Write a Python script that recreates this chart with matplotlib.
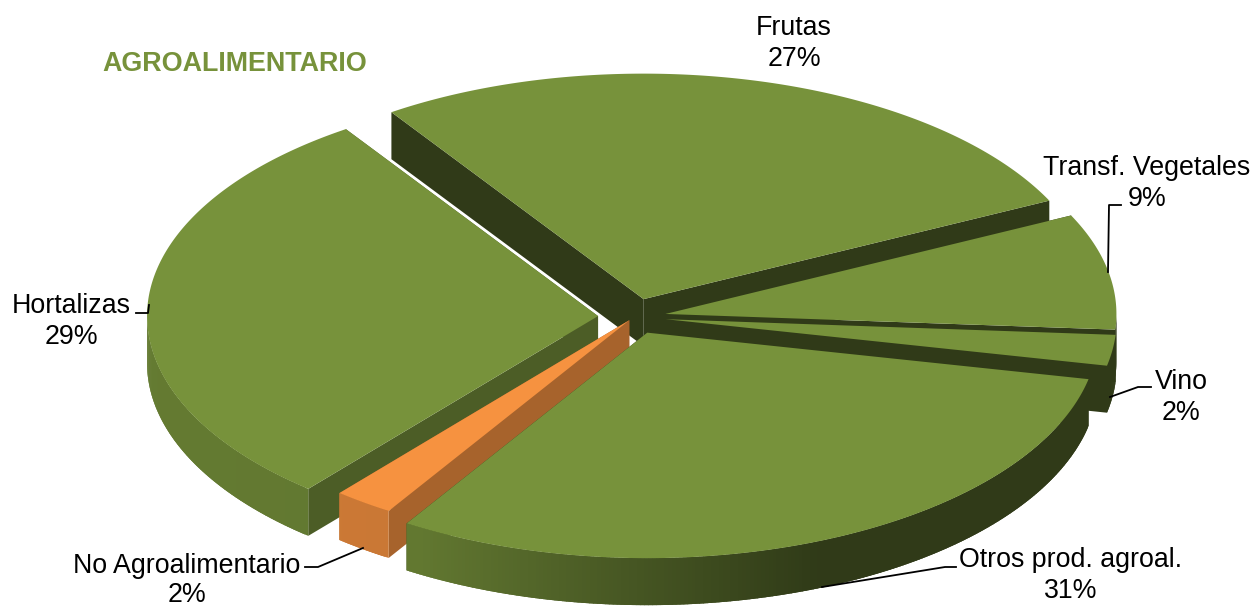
import matplotlib
matplotlib.use("Agg")
import matplotlib.pyplot as plt
import numpy as np
from matplotlib.colors import to_rgb

plt.rcParams['font.family'] = ['Liberation Sans', 'DejaVu Sans']

# chart data, clockwise from Frutas
categories = ["Frutas", "Transf. Vegetales", "Vino", "Otros prod. agroal.",
              "No Agroalimentario", "Hortalizas"]
shares = [27.25, 8.3, 2.2, 30.65, 2.15, 29.45]
share_labels = ["27%", "9%", "2%", "31%", "2%", "29%"]

# style for each slice, same order
explode = [37, 32, 32, 34, 8, 36]
base_colors = ["#77923B", "#77923B", "#77923B", "#77923B", "#F69240", "#77923B"]
wall_shade = [0.40, 0.40, 0.40, 0.40, 0.68, 0.64]
# back to front
draw_order = [0, 1, 2, 5, 4, 3]

W, H = 1254, 607
CX, CY = 634, 317
RX, RY = 451, 225.5
DEPTH = 47
START_ANGLE = -34.0
FONT_SIZE = 19.3

# label centre x, first line y, gap to second line
label_pos = [(794, 28), (1147, 168), (1181, 382), (1071, 560), (187, 566), (71, 306)]
label_gap = [31, 31, 31, 31, 29, 31]
leaders = [
    None,
    [(1108, 272), (1109, 205), (1121, 205)],
    [(1110, 397), (1138, 387), (1151, 387)],
    [(822, 587), (945, 567), (956, 567)],
    [(363, 548), (318, 567), (305, 567)],
    [(149, 305), (148, 313), (136, 313)],
]


def point(ax0, ay0, theta):
    # theta in degrees, clockwise from the top of the ellipse
    t = np.radians(theta)
    return ax0 + RX * np.sin(t), ay0 - RY * np.cos(t)


def arc_shade(theta):
    return np.interp(np.sin(np.radians(theta)), [-1, -0.5, -0.1, 0.12, 0.38, 1],
                     [0.84, 0.82, 0.62, 0.52, 0.40, 0.40])


def shaded(color, factor):
    return tuple(c * factor for c in to_rgb(color))


def draw_slice(ax, apex, a0, a1, color, wall):
    ax0, ay0 = apex
    wall_color = shaded(color, wall)
    # radial walls
    for a in (a0, a1):
        x, y = point(ax0, ay0, a)
        ax.fill([ax0, x, x, ax0], [ay0, y, y + DEPTH, ay0 + DEPTH],
                color=wall_color, lw=0)
    # outer wall, only the front half shows
    lo, hi = max(a0, 90), min(a1, 270)
    if hi > lo:
        angles = np.linspace(lo, hi, int((hi - lo) * 2) + 2)
        for p, q in zip(angles[:-1], angles[1:]):
            # overlap the next strip so no seam shows
            a = np.linspace(p, min(q + 0.6, hi), 4)
            xs, ys = point(ax0, ay0, a)
            ax.fill(np.r_[xs, xs[::-1]], np.r_[ys, ys[::-1] + DEPTH],
                    color=shaded(color, arc_shade((p + q) / 2)), lw=0)
    # top face
    a = np.linspace(a0, a1, 200)
    xs, ys = point(ax0, ay0, a)
    ax.fill(np.r_[ax0, xs], np.r_[ay0, ys], color=color, lw=0)


def main():
    fig = plt.figure(figsize=(W / 100, H / 100), dpi=100)
    ax = fig.add_axes([0, 0, 1, 1])
    ax.set_xlim(0, W)
    ax.set_ylim(H, 0)
    ax.axis("off")

    edges = START_ANGLE + np.r_[0, np.cumsum(shares)] / sum(shares) * 360
    for i in draw_order:
        mid = np.radians((edges[i] + edges[i + 1]) / 2)
        apex = (CX + explode[i] * np.sin(mid), CY - explode[i] * 0.5 * np.cos(mid))
        draw_slice(ax, apex, edges[i], edges[i + 1], base_colors[i], wall_shade[i])

    for i, name in enumerate(categories):
        x, y = label_pos[i]
        ax.text(x, y, name, ha="center", va="center", fontsize=FONT_SIZE, color="black")
        ax.text(x, y + label_gap[i], share_labels[i], ha="center", va="center",
                fontsize=FONT_SIZE, color="black")
        if leaders[i]:
            lx, ly = zip(*leaders[i])
            ax.plot(lx, ly, color="black", lw=1.3)

    ax.text(235, 64, "AGROALIMENTARIO", ha="center", va="center",
            fontsize=19.4, fontweight="bold", color="#77923B")

    plt.savefig("out.png", dpi=100)


if __name__ == '__main__':
    main()
